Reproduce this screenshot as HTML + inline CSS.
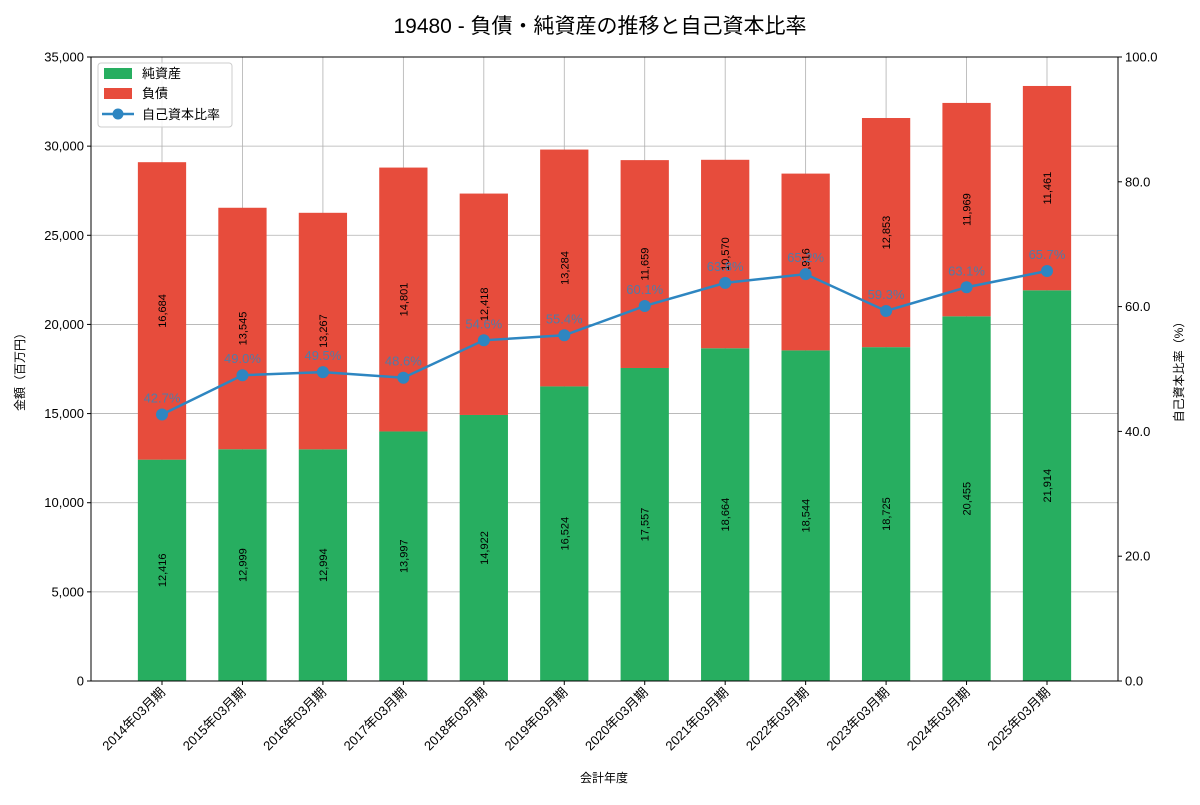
<!DOCTYPE html>
<html><head><meta charset="utf-8">
<style>
body{margin:0;background:#fff;}
svg text{font-family:"Liberation Sans","Noto Sans CJK JP",sans-serif;}
</style></head>
<body>
<svg id="chart" width="1200" height="800" xmlns="http://www.w3.org/2000/svg">
<rect width="1200" height="800" fill="#fff"/>
<text x="600" y="33" font-size="21" text-anchor="middle" fill="#000">19480 - 負債・純資産の推移と自己資本比率</text>
<g id="grid"></g>
<g id="bars"></g>
<g id="line"></g>
<g id="axes"></g>
</svg>
<script>
const categories=["2014年03月期","2015年03月期","2016年03月期","2017年03月期","2018年03月期","2019年03月期","2020年03月期","2021年03月期","2022年03月期","2023年03月期","2024年03月期","2025年03月期"];
const netAssets=[12416,12999,12994,13997,14922,16524,17557,18664,18544,18725,20455,21914];
const liabilities=[16684,13545,13267,14801,12418,13284,11659,10570,9916,12853,11969,11461];
const ratios=[42.7,49.0,49.5,48.6,54.6,55.4,60.1,63.8,65.2,59.3,63.1,65.7];
const leftTicks=[0,5000,10000,15000,20000,25000,30000,35000];
const rightTicks=[0,20,40,60,80,100];

const NS="http://www.w3.org/2000/svg";
const L=91,R=1118,T=57,B=681;
const step=(1047-162)/11;
const xs=i=>162+i*step;
const yL=v=>B-(v/35000)*(B-T);
const yR=v=>B-(v/100)*(B-T);
const bw=step*0.6;
function mk(tag,attrs,parent,text){const e=document.createElementNS(NS,tag);for(const k in attrs)e.setAttribute(k,attrs[k]);if(text!==undefined)e.textContent=text;document.getElementById(parent).appendChild(e);return e;}
const fmt=v=>v.toLocaleString('en-US');

// grid
leftTicks.forEach(t=>{const g=mk('line',{x1:L,x2:R,y1:yL(t),y2:yL(t),stroke:'#b0b0b0','stroke-width':0.8},'grid');

});
categories.forEach((c,i)=>{const g=mk('line',{x1:xs(i),x2:xs(i),y1:T,y2:B,stroke:'#b0b0b0','stroke-width':0.8},'grid');

});

// bars
categories.forEach((c,i)=>{
 const x=xs(i)-bw/2;
 const a=netAssets[i],l=liabilities[i];
 const r1=mk('rect',{x:x,y:yL(a),width:bw,height:yL(0)-yL(a),fill:'#27ae60'},'bars');
 
 
 const r2=mk('rect',{x:x,y:yL(a+l),width:bw,height:yL(a)-yL(a+l),fill:'#e74c3c'},'bars');
 
 
 const ya=(yL(0)+yL(a))/2, yl=(yL(a)+yL(a+l))/2;
 const t1=mk('text',{x:xs(i)+4,y:ya,'font-size':11,'text-anchor':'middle',transform:`rotate(-90 ${xs(i)+4} ${ya})`},'bars',fmt(a));
 
 
 const t2=mk('text',{x:xs(i)+4,y:yl,'font-size':11,'text-anchor':'middle',transform:`rotate(-90 ${xs(i)+4} ${yl})`},'bars',fmt(l));
 
 
});

// ratio line
const pts=ratios.map((r,i)=>xs(i)+','+yR(r)).join(' ');
const pl=mk('polyline',{points:pts,fill:'none',stroke:'#2e86c1','stroke-width':2.5},'line');


ratios.forEach((r,i)=>{
 const c=mk('circle',{cx:xs(i),cy:yR(r),r:6,fill:'#2e86c1'},'line');
 
 
 const t=mk('text',{x:xs(i),y:yR(r)-12,'font-size':13,'text-anchor':'middle',fill:'#2e86c1','fill-opacity':0.8},'line',r.toFixed(1)+'%');
 
 
});

// axes
const fr=mk('rect',{x:L,y:T,width:R-L,height:B-T,fill:'none',stroke:'#000','stroke-width':1},'axes');


leftTicks.forEach(t=>{
 mk('line',{x1:L-4,x2:L,y1:yL(t),y2:yL(t),stroke:'#000'},'axes');
 const e=mk('text',{x:L-7,y:yL(t)+4.5,'font-size':13,'text-anchor':'end'},'axes',fmt(t));
 
 
});
rightTicks.forEach(t=>{
 mk('line',{x1:R,x2:R+4,y1:yR(t),y2:yR(t),stroke:'#000'},'axes');
 const e=mk('text',{x:R+7,y:yR(t)+4.5,'font-size':13,'text-anchor':'start'},'axes',t.toFixed(1));
 
 
});
categories.forEach((c,i)=>{
 mk('line',{x1:xs(i),x2:xs(i),y1:B,y2:B+4,stroke:'#000'},'axes');
 const e=mk('text',{x:xs(i)+4,y:B+12,'font-size':13,'text-anchor':'end',transform:`rotate(-45 ${xs(i)+4} ${B+12})`},'axes',c);
 
 
});
let e=mk('text',{x:604,y:782,'font-size':12,'text-anchor':'middle'},'axes','会計年度');


e=mk('text',{x:24,y:369,'font-size':12,'text-anchor':'middle',transform:'rotate(-90 24 369)'},'axes','金額（百万円）');


e=mk('text',{x:1183,y:369,'font-size':12,'text-anchor':'middle',transform:'rotate(-90 1183 369)'},'axes','自己資本比率（%）');



// legend
const lg=mk('rect',{x:98,y:63,width:134,height:64,fill:'#fff','fill-opacity':0.85,stroke:'#ccc',rx:3},'axes');


mk('rect',{x:104,y:68,width:28,height:11,fill:'#27ae60'},'axes');
e=mk('text',{x:142,y:78,'font-size':13},'axes','純資産');


mk('rect',{x:104,y:88,width:28,height:11,fill:'#e74c3c'},'axes');
e=mk('text',{x:142,y:98,'font-size':13},'axes','負債');


mk('line',{x1:102,x2:134,y1:114,y2:114,stroke:'#2e86c1','stroke-width':2.5},'axes');
mk('circle',{cx:118,cy:114,r:5.5,fill:'#2e86c1'},'axes');
e=mk('text',{x:142,y:119,'font-size':13},'axes','自己資本比率');


</script>
</body></html>
